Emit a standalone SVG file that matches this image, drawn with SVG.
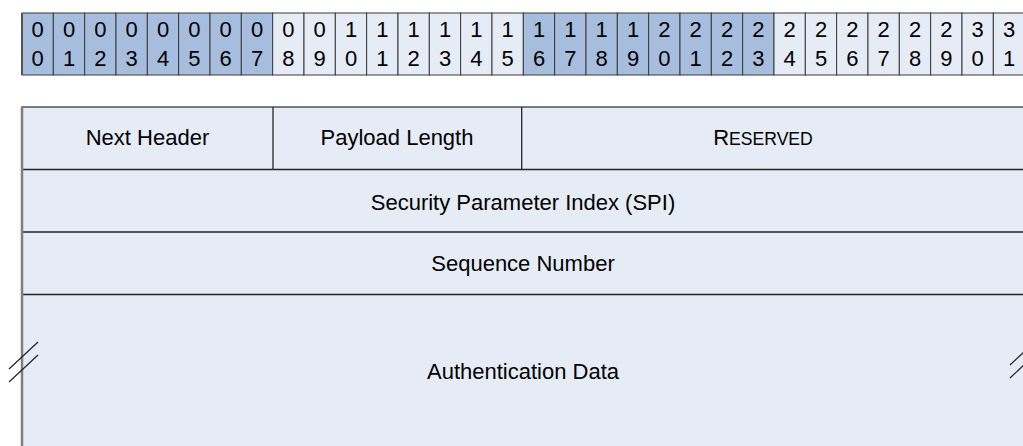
<svg xmlns="http://www.w3.org/2000/svg" width="1023" height="446" viewBox="0 0 1023 446">
<style>
.hb{fill:#a7bddd;stroke:#3a3a3a;stroke-width:1}
.hl{fill:#e6ecf6;stroke:#3a3a3a;stroke-width:1}
.d{font-family:"Liberation Sans",Arial,sans-serif;font-size:22px;fill:#000;text-anchor:middle}
.t{font-family:"Liberation Sans",Arial,sans-serif;font-size:22px;fill:#000;text-anchor:middle}
.ln{stroke:#262626;stroke-width:1.3;fill:none}
.sl{stroke:#222;stroke-width:1.2;fill:none}
</style>
<rect width="1023" height="446" fill="#fff"/>
<g id="bit-header">
<rect class="hb" x="22" y="13" width="31.33" height="62"/><rect class="hb" x="53.33" y="13" width="31.33" height="62"/><rect class="hb" x="84.66" y="13" width="31.33" height="62"/><rect class="hb" x="116" y="13" width="31.33" height="62"/><rect class="hb" x="147.33" y="13" width="31.33" height="62"/><rect class="hb" x="178.66" y="13" width="31.33" height="62"/><rect class="hb" x="210" y="13" width="31.33" height="62"/><rect class="hb" x="241.33" y="13" width="31.33" height="62"/>
<rect class="hl" x="272.66" y="13" width="31.33" height="62"/><rect class="hl" x="304" y="13" width="31.33" height="62"/><rect class="hl" x="335.33" y="13" width="31.33" height="62"/><rect class="hl" x="366.66" y="13" width="31.33" height="62"/><rect class="hl" x="398" y="13" width="31.33" height="62"/><rect class="hl" x="429.33" y="13" width="31.33" height="62"/><rect class="hl" x="460.66" y="13" width="31.33" height="62"/><rect class="hl" x="492" y="13" width="31.33" height="62"/>
<rect class="hb" x="523.33" y="13" width="31.33" height="62"/><rect class="hb" x="554.66" y="13" width="31.33" height="62"/><rect class="hb" x="586" y="13" width="31.33" height="62"/><rect class="hb" x="617.33" y="13" width="31.33" height="62"/><rect class="hb" x="648.66" y="13" width="31.33" height="62"/><rect class="hb" x="680" y="13" width="31.33" height="62"/><rect class="hb" x="711.33" y="13" width="31.33" height="62"/><rect class="hb" x="742.66" y="13" width="31.33" height="62"/>
<rect class="hl" x="774" y="13" width="31.33" height="62"/><rect class="hl" x="805.33" y="13" width="31.33" height="62"/><rect class="hl" x="836.66" y="13" width="31.33" height="62"/><rect class="hl" x="868" y="13" width="31.33" height="62"/><rect class="hl" x="899.33" y="13" width="31.33" height="62"/><rect class="hl" x="930.66" y="13" width="31.33" height="62"/><rect class="hl" x="962" y="13" width="31.33" height="62"/><rect class="hl" x="993.33" y="13" width="31.33" height="62"/>
<line x1="22" y1="13" x2="22" y2="75" stroke="#555" stroke-width="2"/>
<g class="d">
<text x="37.7" y="37">0</text><text x="69" y="37">0</text><text x="100.3" y="37">0</text><text x="131.7" y="37">0</text><text x="163" y="37">0</text><text x="194.3" y="37">0</text><text x="225.7" y="37">0</text><text x="257" y="37">0</text>
<text x="288.3" y="37">0</text><text x="319.7" y="37">0</text><text x="351" y="37">1</text><text x="382.3" y="37">1</text><text x="413.7" y="37">1</text><text x="445" y="37">1</text><text x="476.3" y="37">1</text><text x="507.7" y="37">1</text>
<text x="539" y="37">1</text><text x="570.3" y="37">1</text><text x="601.7" y="37">1</text><text x="633" y="37">1</text><text x="664.3" y="37">2</text><text x="695.7" y="37">2</text><text x="727" y="37">2</text><text x="758.3" y="37">2</text>
<text x="789.7" y="37">2</text><text x="821" y="37">2</text><text x="852.3" y="37">2</text><text x="883.7" y="37">2</text><text x="915" y="37">2</text><text x="946.3" y="37">2</text><text x="977.7" y="37">3</text><text x="1009" y="37">3</text>
<text x="37.7" y="66">0</text><text x="69" y="66">1</text><text x="100.3" y="66">2</text><text x="131.7" y="66">3</text><text x="163" y="66">4</text><text x="194.3" y="66">5</text><text x="225.7" y="66">6</text><text x="257" y="66">7</text>
<text x="288.3" y="66">8</text><text x="319.7" y="66">9</text><text x="351" y="66">0</text><text x="382.3" y="66">1</text><text x="413.7" y="66">2</text><text x="445" y="66">3</text><text x="476.3" y="66">4</text><text x="507.7" y="66">5</text>
<text x="539" y="66">6</text><text x="570.3" y="66">7</text><text x="601.7" y="66">8</text><text x="633" y="66">9</text><text x="664.3" y="66">0</text><text x="695.7" y="66">1</text><text x="727" y="66">2</text><text x="758.3" y="66">3</text>
<text x="789.7" y="66">4</text><text x="821" y="66">5</text><text x="852.3" y="66">6</text><text x="883.7" y="66">7</text><text x="915" y="66">8</text><text x="946.3" y="66">9</text><text x="977.7" y="66">0</text><text x="1009" y="66">1</text>
</g>
</g>
<g id="table-bg">
<rect x="22" y="107" width="1002" height="350" fill="#e6ecf6" stroke="#3a3a3a" stroke-width="1.3"/>
</g>
<g id="next-header"><text class="t" x="147.5" y="145">Next Header</text></g>
<g id="payload-length"><text class="t" x="397" y="145">Payload Length</text></g>
<g id="reserved"><text class="t" x="763" y="145">R<tspan font-size="17.6px">ESERVED</tspan></text></g>
<g id="spi"><text class="t" x="523" y="210">Security Parameter Index (SPI)</text></g>
<g id="sequence-number"><text class="t" x="523" y="271">Sequence Number</text></g>
<g id="authentication-data"><text class="t" x="523" y="379">Authentication Data</text></g>
<g id="connectors">
<line class="ln" x1="273" y1="107" x2="273" y2="169.5"/>
<line class="ln" x1="521.7" y1="107" x2="521.7" y2="169.5"/>
<line class="ln" x1="22" y1="169.5" x2="1024" y2="169.5"/>
<line class="ln" x1="22" y1="232" x2="1024" y2="232"/>
<line class="ln" x1="22" y1="294.5" x2="1024" y2="294.5"/>
<line x1="22" y1="107" x2="22" y2="446" stroke="#7f7f7f" stroke-width="2.5"/>
<line class="sl" x1="9" y1="369" x2="38" y2="342"/>
<line class="sl" x1="9" y1="382" x2="38" y2="355"/>
<line class="sl" x1="1010" y1="365" x2="1039" y2="338"/>
<line class="sl" x1="1010" y1="378" x2="1039" y2="351"/>
</g>
</svg>
